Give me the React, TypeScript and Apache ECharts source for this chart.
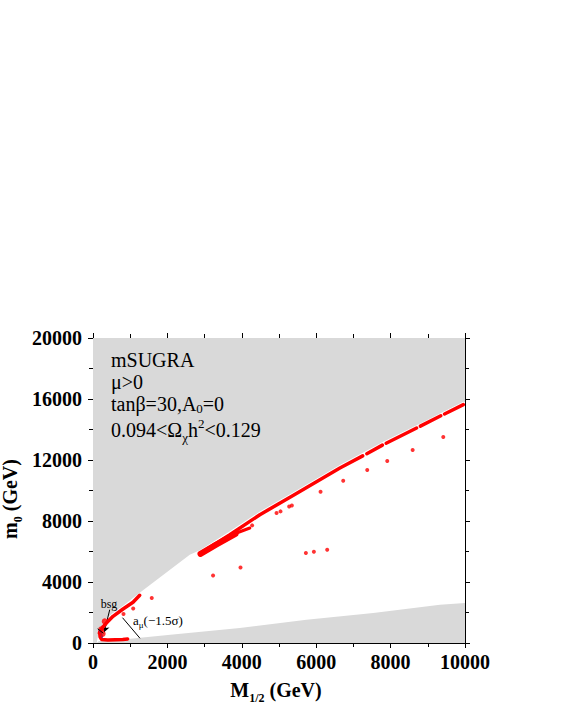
import React, { useEffect, useRef } from 'react';
import * as echarts from 'echarts';

const FONT = "'Liberation Serif', 'Times New Roman', serif";
const GRAY = '#d9d9d9';
const RED = '#ff0000';

// Excluded (gray) regions, [M1/2, m0] in GeV
const upperGray: number[][] = [
  [0, 20000], [10000, 20000], [10000, 15800], [9955, 15820], [8878, 14500], [7802, 13200],
  [6637, 11680], [5400, 9900], [4485, 8620], [3678, 7320], [2871, 6080], [2601, 5790],
  [1256, 3300], [800, 2420], [500, 1900], [300, 1450], [150, 750], [100, 0], [0, 0],
];
const lowerGray: number[][] = [
  [100, 0], [150, 120], [300, 160], [1000, 280], [2150, 550], [3946, 984], [5740, 1530],
  [7534, 1967], [9327, 2513], [10000, 2623], [10000, 0],
];

// WMAP-allowed strips (red)
const mainSeg1: number[][] = [[2871, 5856], [3678, 7101], [4485, 8413], [5400, 9700], [6637, 11475], [7250, 12270]];
const mainSeg2: number[][] = [[7360, 12410], [7780, 12975]];
const mainSeg3: number[][] = [[7880, 13100], [8700, 14100]];
const mainSeg4: number[][] = [[8800, 14220], [9350, 14900]];
const mainSeg5: number[][] = [[9450, 15020], [9955, 15627]];
const bandSeg: number[][] = [[2890, 5840], [3300, 6430], [3830, 7150]];
const strandSeg: number[][] = [[3858, 7213], [4216, 7541]];
const lowCurve: number[][] = [[170, 650], [250, 1000], [360, 1311], [538, 1749], [807, 2230], [1076, 2667], [1256, 3126]];
const lowBranch: number[][] = [[180, 700], [190, 400], [230, 230], [400, 200], [600, 210], [800, 230], [930, 260]];
const isolated: number[][] = [
  [3228, 4433], [3965, 4957], [5722, 5902], [5937, 5989], [6296, 6120], [4278, 7713],
  [4934, 8525], [5041, 8630], [5273, 8957], [5346, 9023], [6117, 9921], [6726, 10643],
  [7372, 11344], [7910, 11934], [8593, 12656], [9416, 13508], [1580, 2950], [1080, 2260], [820, 1900],
];
const blobs: number[][] = [[315, 1416], [220, 900], [260, 600]];
const blueBit: number[][] = [[170, 850], [230, 600], [250, 400]];
const amuPointer: number[][] = [[800, 1640], [1256, 330]];
const smallTick: number[][] = [[134, 918], [269, 656]];
const bsgArrowFrom = [450, 2185];
const bsgArrowTo = [300, 700];

const xMin = 0, xMax = 10000, xStep = 2000;
const yMin = 0, yMax = 20000, yStep = 4000;

const textLines = [
  { text: 'mSUGRA', y: 359.5, lh: 19 },
  { text: 'μ>0', y: 381.5, lh: 19 },
  { text: 'tanβ=30,A{sub|0}=0', y: 403.5, lh: 23 },
  { text: '0.094<Ω{sub|χ}h{sup|2}<0.129', y: 430, lh: 27 },
];

function lineSeries(data: number[][], width: number, color = RED, z = 5) {
  return {
    type: 'line', data, showSymbol: false, symbol: 'none', silent: true, z,
    lineStyle: { color, width, cap: 'round', join: 'round' },
  };
}

function axisCommon(showLabel: boolean, margin = 8) {
  return {
    axisLine: { show: true, onZero: false, lineStyle: { color: '#000', width: 1 } },
    axisTick: { show: true, inside: false, length: 5, lineStyle: { color: '#000', width: 1 } },
    minorTick: { show: true, splitNumber: 2, length: 4, lineStyle: { color: '#000', width: 1 } },
    splitLine: { show: false },
    axisLabel: {
      show: showLabel, fontFamily: FONT, fontWeight: 'bold', fontSize: 20, color: '#000', margin,
      formatter: (v: number) => String(v),
    },
  };
}

const nameRich = {
  m: { fontFamily: FONT, fontWeight: 'bold', fontSize: 20, fill: '#000', lineHeight: 24, verticalAlign: 'top' },
  s: { fontFamily: FONT, fontWeight: 'bold', fontSize: 12, fill: '#000', lineHeight: 12, verticalAlign: 'bottom' },
};

export default function App() {
  const ref = useRef<HTMLDivElement>(null);
  useEffect(() => {
    if (!ref.current) return;
    const chart = echarts.init(ref.current, undefined, { renderer: 'svg' });
    const polySeries = (pts: number[][]) => ({
      type: 'custom', coordinateSystem: 'cartesian2d', silent: true, z: 1,
      data: [[0, 0]],
      renderItem: (_p: any, api: any) => ({
        type: 'polygon',
        shape: { points: pts.map((p) => api.coord(p)) },
        style: { fill: GRAY, stroke: null },
      }),
    });
    const option: any = {
      animation: false,
      backgroundColor: '#fff',
      grid: { left: 93, right: 96, top: 338, bottom: 83, containLabel: false, outerBoundsMode: 'none' },
      xAxis: [
        { type: 'value', min: xMin, max: xMax, interval: xStep, position: 'bottom', ...axisCommon(true, 9) },
        { type: 'value', min: xMin, max: xMax, interval: xStep, position: 'top', ...axisCommon(false) },
      ],
      yAxis: [
        { type: 'value', min: yMin, max: yMax, interval: yStep, position: 'left', ...axisCommon(true, 11) },
        { type: 'value', min: yMin, max: yMax, interval: yStep, position: 'right', ...axisCommon(false) },
      ],
      series: [
        polySeries(upperGray),
        polySeries(lowerGray),
        lineSeries(bandSeg, 6),
        lineSeries(mainSeg1, 3.5),
        lineSeries(mainSeg2, 3.5),
        lineSeries(mainSeg3, 3.5),
        lineSeries(mainSeg4, 3.5),
        lineSeries(mainSeg5, 3.5),
        lineSeries(strandSeg, 3),
        lineSeries(lowCurve, 3.5),
        lineSeries(lowBranch, 3.5),
        lineSeries(blueBit, 1.5, '#2030c0', 6),
        lineSeries(amuPointer, 1, '#000', 7),
        lineSeries(smallTick, 1, '#000', 7),
        {
          type: 'line', data: [], silent: true, z: 7,
          markLine: {
            silent: true, symbol: ['none', 'arrow'], symbolSize: 6, label: { show: false },
            lineStyle: { color: '#000', width: 1, type: 'solid' },
            data: [[{ coord: bsgArrowFrom }, { coord: bsgArrowTo }]],
          },
        },
        {
          type: 'scatter', data: isolated, symbolSize: 4, silent: true, z: 6,
          itemStyle: { color: RED },
        },
        {
          type: 'scatter', data: blobs, symbolSize: 6, silent: true, z: 6,
          itemStyle: { color: RED },
        },
      ],
      graphic: [
        ...textLines.map((l) => ({
          type: 'text', x: 111, y: l.y, silent: true, z: 10,
          style: {
            text: l.text, fontFamily: FONT, fontSize: 20, fill: '#000',
            verticalAlign: 'middle', align: 'left', lineHeight: l.lh,
            rich: {
              sub: { fontFamily: FONT, fontSize: 13, fill: '#000', lineHeight: 8, verticalAlign: 'bottom' },
              sup: { fontFamily: FONT, fontSize: 13, fill: '#000', lineHeight: 2, verticalAlign: 'top' },
            },
          },
        })),
        {
          type: 'text', x: 276, y: 692, silent: true, z: 10,
          style: {
            text: '{m|M}{s|1/2}{m| (GeV)}', fill: '#000', align: 'center', verticalAlign: 'middle',
            lineHeight: 24, rich: nameRich,
          },
        },
        {
          type: 'text', x: 12, y: 499, rotation: Math.PI / 2, silent: true, z: 10,
          style: {
            text: '{m|m}{s|0}{m| (GeV)}', fill: '#000', align: 'center', verticalAlign: 'middle',
            lineHeight: 24, rich: nameRich,
          },
        },
        {
          type: 'text', x: 109, y: 604, silent: true, z: 10,
          style: { text: 'bsg', fontFamily: FONT, fontSize: 12, fill: '#000', align: 'center', verticalAlign: 'middle' },
        },
        {
          type: 'text', x: 133, y: 620, silent: true, z: 10,
          style: {
            text: 'a{sub|μ}(−1.5σ)', fontFamily: FONT, fontSize: 13, fill: '#000',
            align: 'left', verticalAlign: 'middle', lineHeight: 18,
            rich: { sub: { fontFamily: FONT, fontSize: 9, fill: '#000', lineHeight: 9, verticalAlign: 'bottom' } },
          },
        },
      ],
    };
    chart.setOption(option);
    return () => chart.dispose();
  }, []);
  return (
    <div
      ref={ref}
      style={{ position: 'fixed', left: 0, top: 0, width: 561, height: 726, background: '#fff' }}
    />
  );
}
